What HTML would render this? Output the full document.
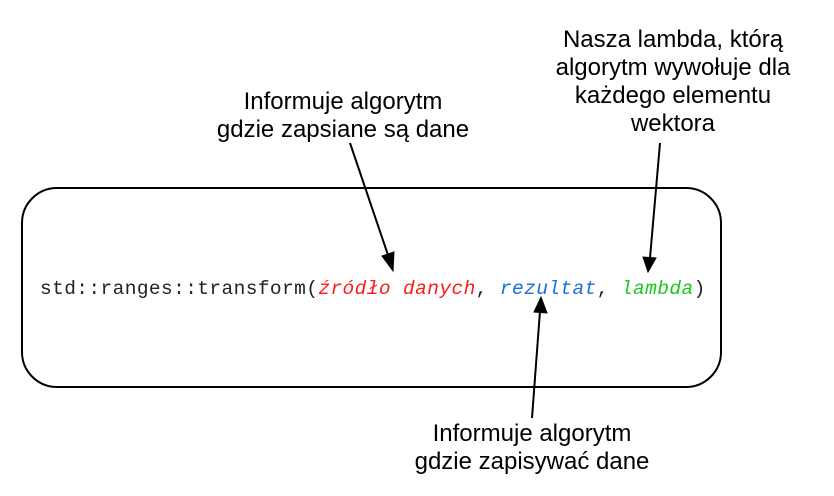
<!DOCTYPE html>
<html><head><meta charset="utf-8"><style>
body{margin:0;background:#fff;width:834px;height:496px;overflow:hidden;position:relative;font-family:"Liberation Sans",sans-serif}
.box{position:absolute;left:21px;top:187px;width:697px;height:197px;border:2px solid #000;border-radius:36px}
.code{position:absolute;left:40px;top:278px;font-family:"Liberation Mono",monospace;font-size:19.5px;letter-spacing:0.4px;white-space:pre;color:#222}
.l{position:absolute;text-align:center;font-size:24px;line-height:28px;color:#000;white-space:nowrap;transform:translateX(-50%)}
i{font-style:italic}
</style></head><body>
<div class="box"></div>
<div class="code">std::ranges::transform(<i style="color:#ff1a1a">źródło danych</i>, <i style="color:#1a6fdd">rezultat</i>, <i style="color:#1ac81a">lambda</i>)</div>
<div class="l" style="left:343px;top:88px">Informuje algorytm<br>gdzie zapsiane są dane</div>
<div class="l" style="left:673px;top:26px">Nasza lambda, którą<br>algorytm wywołuje dla<br>każdego elementu<br>wektora</div>
<div class="l" style="left:532px;top:420px">Informuje algorytm<br>gdzie zapisywać dane</div>
<svg width="834" height="496" style="position:absolute;left:0;top:0">
<g stroke="#000" stroke-width="2" fill="#000">
<line x1="350" y1="143" x2="389" y2="258"/>
<polygon points="393,271 382,256 394,252" stroke-width="1"/>
<line x1="660" y1="143" x2="650" y2="258"/>
<polygon points="648,272 643,257 656,258" stroke-width="1"/>
<line x1="532" y1="418" x2="540" y2="311"/>
<polygon points="541,297 547,313 534,312" stroke-width="1"/>
</g></svg>
</body></html>
